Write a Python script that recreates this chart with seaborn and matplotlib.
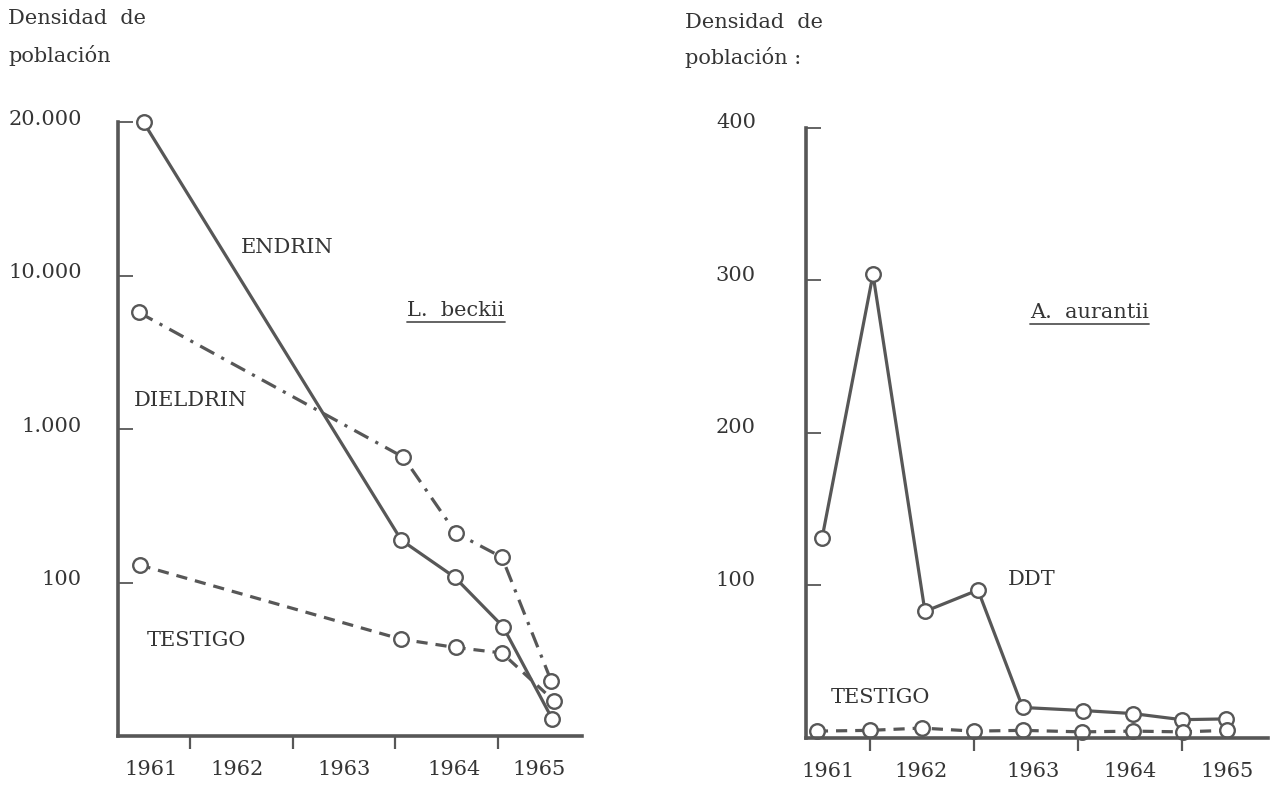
import numpy as np
import pandas as pd
import matplotlib
matplotlib.use("Agg")
import matplotlib.pyplot as plt
import matplotlib.transforms as mtransforms
from matplotlib.lines import Line2D
from matplotlib.ticker import FixedLocator, NullLocator
import seaborn as sns

# ---------------- data ----------------
# Left panel: L. beckii (population density, stretched log axis)
endrin_x = [1961.55, 1964.06, 1964.58, 1965.05, 1965.53]
endrin_y = [20000, 190, 109, 52, 13]
dieldrin_x = [1961.50, 1964.08, 1964.59, 1965.04, 1965.52]
dieldrin_y = [5800, 660, 212, 147, 23]
testigo_l_x = [1961.51, 1964.06, 1964.59, 1965.04, 1965.55]
testigo_l_y = [131, 43, 38, 35, 17]

# Right panel: A. aurantii (population density, linear axis)
ddt_x = [1961.54, 1962.03, 1962.53, 1963.04, 1963.47, 1964.05, 1964.53, 1965.00, 1965.43]
ddt_y = [131, 304, 83, 97, 20, 18, 16, 12, 12.5]
testigo_r_x = [1961.49, 1962.00, 1962.50, 1963.00, 1963.47, 1964.04, 1964.53, 1965.01, 1965.44]
testigo_r_y = [4.5, 5, 6.5, 4.5, 5, 4, 4.5, 4, 5]

year_labels = ["1961", "1962", "1963", "1964", "1965"]
year_bounds = [1962, 1963, 1964, 1965]
left_ytick_vals = [100, 1000, 10000, 20000]
left_ytick_labels = ["100", "1.000", "10.000", "20.000"]
right_ytick_vals = [100, 200, 300, 400]
right_ytick_labels = ["100", "200", "300", "400"]

# ---------------- style ----------------
sns.set_style("white")
plt.rcParams["font.family"] = ["DejaVu Serif", "DejaVu Sans"]
INK = "#575757"
TXT = "#353535"
FS = 15

fig = plt.figure(figsize=(12.7, 7.85), dpi=100)
axL = fig.add_axes([0.0929, 0.0618, 0.3654, 0.7822])
axR = fig.add_axes([0.6346, 0.0599, 0.3638, 0.7771])


def fwd(v):
    v = np.asarray(v, dtype=float)
    lv = np.log10(np.clip(v, 1e-3, None))
    return np.where(lv <= 4, lv, 4 + (lv - 4) / np.log10(2))


def inv(f):
    f = np.asarray(f, dtype=float)
    return np.where(f <= 4, 10.0 ** f, 10.0 ** (4 + (f - 4) * np.log10(2)))


line_kw = dict(color=INK, linewidth=2.3, marker="o", markersize=10.5,
               markerfacecolor="white", markeredgecolor=INK,
               markeredgewidth=1.7, sort=False)

# left panel
sns.lineplot(x=endrin_x, y=endrin_y, ax=axL, linestyle="-", **line_kw)
sns.lineplot(x=dieldrin_x, y=dieldrin_y, ax=axL,
             linestyle=(0, (5, 2.5, 1, 2.5)), **line_kw)
sns.lineplot(x=testigo_l_x, y=testigo_l_y, ax=axL,
             linestyle=(0, (3.5, 2.5)), **line_kw)
axL.set_yscale("function", functions=(fwd, inv))
axL.set_ylim(10, 20000)
axL.set_xlim(1961.30, 1965.82)

# right panel
sns.lineplot(x=ddt_x, y=ddt_y, ax=axR, linestyle="-", **line_kw)
sns.lineplot(x=testigo_r_x, y=testigo_r_y, ax=axR,
             linestyle=(0, (3.5, 2.5)), **line_kw)
axR.set_ylim(0, 400)
axR.set_xlim(1961.385, 1965.83)

left_label_pos = [1961.62, 1962.46, 1963.50, 1964.57, 1965.40]
right_label_pos = [1961.60, 1962.49, 1963.57, 1964.50, 1965.44]

for ax, lpos, yv, yl, ypad in [
    (axL, left_label_pos, left_ytick_vals, left_ytick_labels, 26),
    (axR, right_label_pos, right_ytick_vals, right_ytick_labels, 36),
]:
    for s in ["top", "right"]:
        ax.spines[s].set_visible(False)
    for s in ["left", "bottom"]:
        ax.spines[s].set_color(INK)
        ax.spines[s].set_linewidth(2.6)
    ax.set_xlabel("")
    ax.set_ylabel("")
    ax.xaxis.set_major_locator(FixedLocator(lpos))
    ax.set_xticklabels(year_labels)
    ax.xaxis.set_minor_locator(FixedLocator(year_bounds))
    ax.tick_params(axis="x", which="major", length=0, pad=17,
                   labelsize=15, labelcolor=TXT)
    ax.tick_params(axis="x", which="minor", direction="out", length=9,
                   width=1.6, color=INK, bottom=True)
    ax.yaxis.set_major_locator(FixedLocator(yv))
    ax.yaxis.set_minor_locator(NullLocator())
    ax.set_yticklabels(yl)
    ax.tick_params(axis="y", which="major", direction="in", length=11,
                   width=1.3, color=INK, pad=ypad, labelsize=FS,
                   labelcolor=TXT, left=True)
    ax.grid(False)
    for line in ax.lines:
        line.set_clip_on(False)

# nudge y tick labels up slightly (as in the original)
for ax, dy in [(axL, 0.05), (axR, 0.07)]:
    off = mtransforms.ScaledTranslation(0, dy, fig.dpi_scale_trans)
    for lab in ax.get_yticklabels():
        lab.set_transform(lab.get_transform() + off)

# annotations
tk = dict(fontsize=FS, color=TXT, ha="center", va="center")
axL.text(0.364, 0.796, "ENDRIN", transform=axL.transAxes, **tk)
axL.text(0.157, 0.548, "DIELDRIN", transform=axL.transAxes, **tk)
axL.text(0.168, 0.157, "TESTIGO", transform=axL.transAxes, **tk)
sp_l = axL.text(0.728, 0.694, "L.  beckii", transform=axL.transAxes, **tk)
axR.text(0.489, 0.259, "DDT", transform=axR.transAxes, **tk)
axR.text(0.162, 0.067, "TESTIGO", transform=axR.transAxes, **tk)
sp_r = axR.text(0.613, 0.698, "A.  aurantii", transform=axR.transAxes, **tk)

# y-axis titles
hk = dict(fontsize=FS, color=TXT, ha="left", va="center")
fig.text(8 / 1270, 1 - 19 / 785, "Densidad  de", **hk)
fig.text(8 / 1270, 1 - 55 / 785, "población", **hk)
fig.text(685 / 1270, 1 - 22 / 785, "Densidad  de", **hk)
fig.text(685 / 1270, 1 - 57 / 785, "población :", **hk)

# underline species names
fig.canvas.draw()
inv_fig = fig.transFigure.inverted()
for t in (sp_l, sp_r):
    bb = t.get_window_extent(renderer=fig.canvas.get_renderer())
    (x0, y0) = inv_fig.transform((bb.x0, bb.y0 - 2))
    (x1, _) = inv_fig.transform((bb.x1, bb.y0 - 2))
    fig.add_artist(Line2D([x0, x1], [y0, y0], transform=fig.transFigure,
                          color=INK, linewidth=1.3))

fig.savefig("out.png", dpi=100)
